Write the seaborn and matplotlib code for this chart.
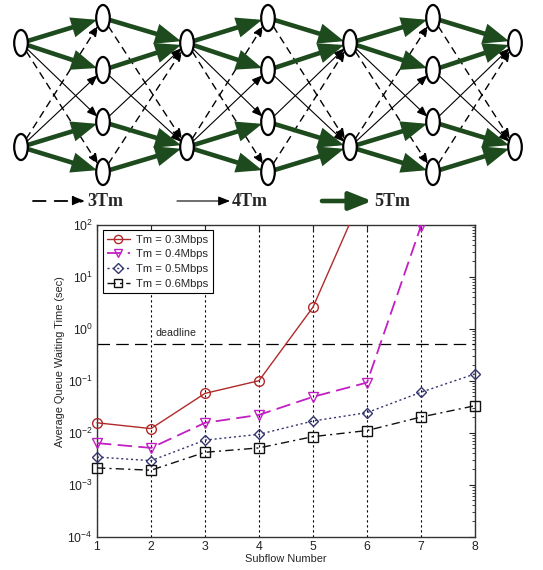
import numpy as np
import pandas as pd
import matplotlib
matplotlib.use("Agg")
import matplotlib.pyplot as plt
import seaborn as sns
from matplotlib.patches import Ellipse, FancyArrowPatch, Rectangle
from matplotlib.ticker import LogLocator, NullFormatter, FixedLocator

# ---------------- data ----------------
subflow = [1, 2, 3, 4, 5, 6, 7, 8]
tm03 = [0.0155, 0.012, 0.057, 0.10, 2.6, 600, 5000, 30000]
tm04 = [0.0063, 0.0051, 0.0155, 0.022, 0.049, 0.092, 95, 3000]
tm05 = [0.0034, 0.0029, 0.0072, 0.0093, 0.0168, 0.0243, 0.060, 0.135]
tm06 = [0.0021, 0.0019, 0.0042, 0.0051, 0.0084, 0.011, 0.020, 0.033]
series_labels = ["Tm = 0.3Mbps", "Tm = 0.4Mbps", "Tm = 0.5Mbps", "Tm = 0.6Mbps"]
y_ticks = [1e-4, 1e-3, 1e-2, 1e-1, 1e0, 1e1, 1e2]
deadline = 0.5
deadline_label = "deadline"
x_label = "Subflow Number"
y_label = "Average Queue Waiting Time (sec)"

# diagram structure (layered network)
layer_x = [21, 103, 187, 268, 350, 433, 515]
even_rows = [43, 147]
odd_rows = [18, 70, 122, 172]
# edge kinds: g = 5Tm (thick green), s = 4Tm (thin solid), d = 3Tm (dashed)
even_to_odd = [["g", "g", "s", "d"], ["d", "s", "g", "g"]]
odd_to_even = [["g", "d"], ["g", "s"], ["s", "g"], ["d", "g"]]
key_labels = [("d", "3Tm"), ("s", "4Tm"), ("g", "5Tm")]

# ---------------- figure ----------------
sns.set_style("white")
plt.rcParams["font.family"] = ["Liberation Sans", "DejaVu Sans"]
plt.rcParams["axes.unicode_minus"] = False
W, H = 543, 570
fig = plt.figure(figsize=(W / 100, H / 100), dpi=100)

GREEN = "#1d4b1d"
PX = 0.72  # points per pixel

# ---------- network diagram ----------
axd = fig.add_axes([0, 1 - 215 / H, 1, 215 / H])
axd.set_xlim(0, W)
axd.set_ylim(215, 0)
axd.axis("off")

EA, EB = 6.8, 13.0  # ellipse semi-axes (px)


def boundary(dx, dy):
    L = np.hypot(dx, dy)
    ux, uy = dx / L, dy / L
    return 1.0 / np.sqrt((ux / EA) ** 2 + (uy / EB) ** 2)


def style_of(kind):
    if kind == "g":
        return dict(color=GREEN, lw=3.3, arrowstyle="-|>,head_length=1.25,head_width=0.5",
                    mutation_scale=10, linestyle="-")
    if kind == "s":
        return dict(color="black", lw=0.8, arrowstyle="-|>,head_length=0.8,head_width=0.32",
                    mutation_scale=8, linestyle="-")
    return dict(color="black", lw=1.0, arrowstyle="-|>,head_length=0.8,head_width=0.32",
                mutation_scale=8, linestyle=(0, (5.5, 3.5)))


def draw_edge(p0, p1, kind, z):
    dx, dy = p1[0] - p0[0], p1[1] - p0[1]
    t = boundary(dx, dy)
    st = style_of(kind)
    a = FancyArrowPatch(p0, p1, shrinkA=t * PX, shrinkB=(t - 0.8) * PX,
                        arrowstyle=st["arrowstyle"], mutation_scale=st["mutation_scale"],
                        lw=st["lw"], color=st["color"], linestyle=st["linestyle"],
                        zorder=z, joinstyle="miter", capstyle="butt")
    axd.add_patch(a)


nodes = []
for li, x in enumerate(layer_x):
    rows = even_rows if li % 2 == 0 else odd_rows
    nodes.append([(x, y) for y in rows])

zmap = {"d": 1, "s": 2, "g": 3}
for li in range(len(layer_x) - 1):
    if li % 2 == 0:
        for i, p0 in enumerate(nodes[li]):
            for j, p1 in enumerate(nodes[li + 1]):
                k = even_to_odd[i][j]
                draw_edge(p0, p1, k, zmap[k])
    else:
        for j, p0 in enumerate(nodes[li]):
            for i, p1 in enumerate(nodes[li + 1]):
                k = odd_to_even[j][i]
                draw_edge(p0, p1, k, zmap[k])

for layer in nodes:
    for (x, y) in layer:
        axd.add_patch(Ellipse((x, y), 2 * EA, 2 * EB, facecolor="white",
                              edgecolor="black", lw=1.6, zorder=5))

# key
key_x = [(33, 85), (177, 230), (322, 372)]
for (k, lab), (xa, xb) in zip(key_labels, key_x):
    st = style_of(k)
    a = FancyArrowPatch((xa, 201), (xb, 201), shrinkA=0, shrinkB=0,
                        arrowstyle=st["arrowstyle"], mutation_scale=st["mutation_scale"] * 1.1,
                        lw=st["lw"] * (1.0 if k != "d" else 1.3), color=st["color"],
                        linestyle=st["linestyle"] if k != "d" else (0, (7, 5)), zorder=4)
    axd.add_patch(a)
    axd.text(xb + 2, 201, lab, fontsize=13, fontweight="bold",
             family=["Liberation Serif", "DejaVu Serif"], va="center", ha="left")

# ---------- line chart ----------
ax = fig.add_axes([97 / W, 1 - 536.7 / H, (475 - 97) / W, (536.7 - 224.7) / H])

df = pd.DataFrame({
    "Subflow": subflow * 4,
    "Wait": tm03 + tm04 + tm05 + tm06,
    "Series": sum([[s] * len(subflow) for s in series_labels], []),
})

styles = [
    dict(color="#b02a2a", marker="o", dashes=None, lw=1.0, ms=7),
    dict(color="#c21fc2", marker="v", dashes=(8, 3.5), lw=1.3, ms=7),
    dict(color="#35356e", marker="D", dashes=(1.5, 2), lw=1.0, ms=5.5),
    dict(color="#111111", marker="s", dashes=(6, 3, 1.5, 3), lw=1.0, ms=7),
]

clip_rect = Rectangle((-0.05, -0.05), 1.1, 1.05, transform=ax.transAxes)
for lab, st in zip(series_labels, styles):
    sub = df[df["Series"] == lab]
    sns.lineplot(data=sub, x="Subflow", y="Wait", ax=ax, color=st["color"],
                 marker=st["marker"], markersize=st["ms"], markerfacecolor="none",
                 markeredgecolor=st["color"], markeredgewidth=1.0, lw=st["lw"],
                 label=lab, estimator=None, sort=False)
    line = ax.get_lines()[-1]
    if st["dashes"] is not None:
        line.set_dashes(st["dashes"])
    line.set_clip_path(clip_rect)
    line.set_zorder(4)

ax.axhline(deadline, color="black", lw=0.9, dashes=(10, 5), zorder=1)
ax.text(2.08, deadline * 1.35, deadline_label, fontsize=7.7, ha="left", va="bottom")

ax.set_yscale("log")
ax.set_ylim(1e-4, 1e2)
ax.set_xlim(1, 8)
ax.xaxis.set_major_locator(FixedLocator(subflow))
ax.yaxis.set_major_locator(FixedLocator(y_ticks))
minor = [m * t for t in y_ticks[:-1] for m in range(2, 10)]
ax.yaxis.set_minor_locator(FixedLocator(minor))
ax.yaxis.set_minor_formatter(NullFormatter())
ax.grid(axis="x", which="major", color="black", lw=0.8, linestyle=(0, (2, 2.5)))
ax.grid(axis="y", visible=False)
ax.tick_params(which="both", direction="in", top=True, right=True, labelsize=8.8,
               colors="#222222", pad=3)
ax.tick_params(which="major", length=4)
ax.tick_params(which="minor", length=2)
for sp in ax.spines.values():
    sp.set_color("#333333")
    sp.set_linewidth(1.0)

ax.set_xlabel(x_label, fontsize=7.9, labelpad=1)
ax.set_ylabel(y_label, fontsize=7.9)
ax.yaxis.set_label_coords(-0.085, 0.56)

leg = ax.legend(loc="upper left", bbox_to_anchor=(0.015, 0.983), borderaxespad=0,
                fontsize=8.1, frameon=True, fancybox=False, handlelength=2.0,
                handletextpad=0.6, labelspacing=0.42, borderpad=0.4, markerscale=0.85)
leg.get_frame().set_edgecolor("black")
leg.get_frame().set_linewidth(0.8)
leg.get_frame().set_alpha(1)
leg.set_zorder(6)

fig.savefig("out.png", dpi=100)
